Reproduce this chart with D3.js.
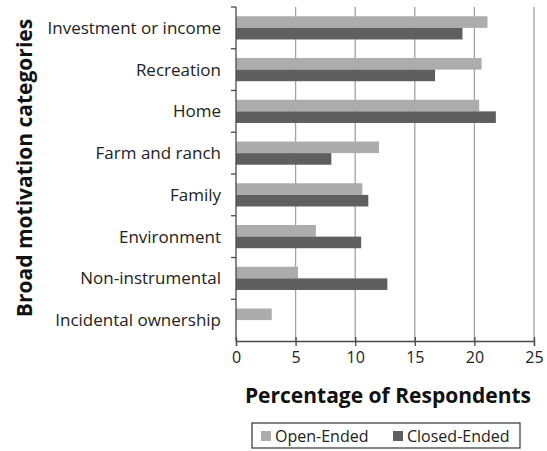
<!DOCTYPE html>
<html>
<head>
<meta charset="utf-8">
<script src="https://cdn.jsdelivr.net/npm/d3@7"></script>
<style>
  body { margin: 0; background: #fff; }
  svg { display: block; font-family: "Open Sans", sans-serif; }
</style>
</head>
<body>
<div id="chart"></div>
<script>
// data
var categories = ["Investment or income", "Recreation", "Home", "Farm and ranch",
                  "Family", "Environment", "Non-instrumental", "Incidental ownership"];
var openEnded = [21.1, 20.6, 20.4, 12.0, 10.6, 6.7, 5.2, 3.0];
var closedEnded = [19.0, 16.7, 21.8, 8.0, 11.1, 10.5, 12.7, 0];
var seriesNames = ["Open-Ended", "Closed-Ended"];
var seriesColors = ["#acacac", "#5f5f5f"];
var xTicks = [0, 5, 10, 15, 20, 25];

var width = 547, height = 451;
var margin = {top: 7, right: 13, bottom: 110, left: 236};
var width_g = width - margin.left - margin.right,
    height_g = height - margin.top - margin.bottom;

var svg = d3.select("#chart").append("svg")
    .attr("width", width)
    .attr("height", height);

var x = d3.scaleLinear().domain([0, 25]).range([0, width_g]);
var y = d3.scaleBand().domain(categories).range([0, height_g]);
var ySub = d3.scaleBand().domain(seriesNames).range([0, y.bandwidth()]).paddingOuter(0.8);

var g = svg.append("g")
    .attr("transform", "translate(" + margin.left + "," + margin.top + ")");

// gridlines
g.append("g").selectAll("line")
    .data(xTicks.slice(1))
    .enter().append("line")
    .attr("x1", function(d) { return x(d); })
    .attr("x2", function(d) { return x(d); })
    .attr("y1", 0)
    .attr("y2", height_g)
    .attr("stroke", "#a3a3a3")
    .attr("stroke-width", 1.3);

// bars
var rows = categories.map(function(c, i) {
    return {cat: c, values: [openEnded[i], closedEnded[i]]};
});
var groups = g.append("g").selectAll("g")
    .data(rows)
    .enter().append("g")
    .attr("transform", function(d) { return "translate(0," + y(d.cat) + ")"; });
groups.selectAll("rect")
    .data(function(d) { return d.values.map(function(v, j) { return {s: seriesNames[j], v: v, j: j}; }); })
    .enter().append("rect")
    .attr("x", 0)
    .attr("y", function(d) { return ySub(d.s); })
    .attr("width", function(d) { return x(d.v); })
    .attr("height", ySub.bandwidth())
    .attr("fill", function(d) { return seriesColors[d.j]; });

// left axis with ticks at category boundaries
var yAxis = g.append("g");
yAxis.append("line")
    .attr("x1", 0).attr("x2", 0).attr("y1", 0).attr("y2", height_g)
    .attr("stroke", "#4a4a4a").attr("stroke-width", 1.3);
yAxis.selectAll(".btick")
    .data(categories)
    .enter().append("line")
    .attr("class", "btick")
    .attr("x1", -5).attr("x2", 0)
    .attr("y1", function(d) { return y(d); })
    .attr("y2", function(d) { return y(d); })
    .attr("stroke", "#4a4a4a").attr("stroke-width", 1.3);
yAxis.selectAll("text")
    .data(categories)
    .enter().append("text")
    .attr("x", -15)
    .attr("y", function(d) { return y(d) + y.bandwidth() / 2; })
    .attr("dy", "0.35em")
    .attr("text-anchor", "end")
    .attr("font-size", 17)
    .attr("fill", "#222")
    .text(function(d) { return d; });

// bottom axis
var xAxis = d3.axisBottom(x).tickValues(xTicks).tickSize(5).tickPadding(6);
var xg = g.append("g")
    .attr("transform", "translate(0," + height_g + ")")
    .call(xAxis);
xg.select(".domain").attr("stroke", "#4a4a4a").attr("stroke-width", 1.3);
xg.selectAll(".tick line").attr("stroke", "#4a4a4a").attr("stroke-width", 1.3).attr("y1", -4);
xg.selectAll(".tick text")
    .attr("font-size", 16)
    .attr("font-family", "'Open Sans', sans-serif")
    .attr("fill", "#222");

// axis titles
g.append("text")
    .attr("x", width_g / 2 + 3)
    .attr("y", height_g + 62)
    .attr("text-anchor", "middle")
    .attr("font-size", 21)
    .attr("font-weight", "bold")
    .attr("fill", "#111")
    .text("Percentage of Respondents");

svg.append("text")
    .attr("transform", "rotate(-90)")
    .attr("x", -(margin.top + height_g / 2) + 6)
    .attr("y", 32)
    .attr("text-anchor", "middle")
    .attr("font-size", 21)
    .attr("font-weight", "bold")
    .attr("fill", "#111")
    .text("Broad motivation categories");

// legend
var legend = svg.append("g").attr("transform", "translate(252,423)");
legend.append("rect")
    .attr("width", 268).attr("height", 25)
    .attr("fill", "#fff").attr("stroke", "#333").attr("stroke-width", 1.2);
var li = legend.selectAll(".item")
    .data(seriesNames)
    .enter().append("g")
    .attr("class", "item")
    .attr("transform", function(d, i) { return "translate(" + (9 + i * 132) + ",0)"; });
li.append("rect")
    .attr("y", 8).attr("width", 10).attr("height", 10)
    .attr("fill", function(d, i) { return seriesColors[i]; });
li.append("text")
    .attr("x", 14).attr("y", 13).attr("dy", "0.35em")
    .attr("font-size", 16)
    .attr("fill", "#222")
    .text(function(d) { return d; });
</script>
</body>
</html>
